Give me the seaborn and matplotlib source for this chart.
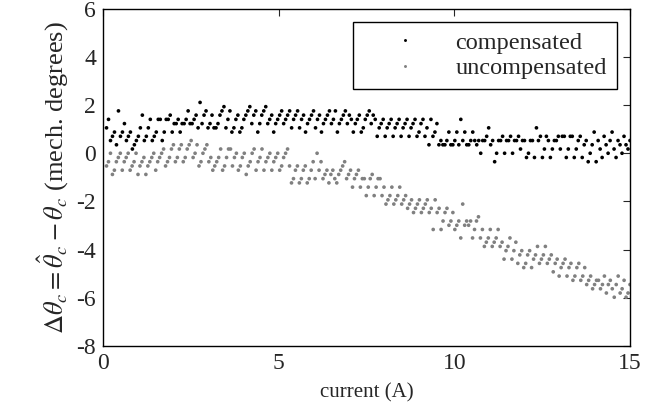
import numpy as np
import pandas as pd
import matplotlib
matplotlib.use('Agg')
import matplotlib.pyplot as plt
import seaborn as sns

# encoder resolution: mechanical degrees per count
DEG_PER_COUNT = 360 / 2048

# angle error, in encoder counts, in order of rising current
compensated_counts = [
    6, 8, 3, 4, 5, 2, 10, 4, 5, 7, 3, 4, 5, 1, 2, 3, 4, 6, 9, 3,
    4, 6, 8, 3, 4, 5, 8, 8, 3, 5, 8, 8, 9, 5, 7, 7, 8, 5, 7, 7,
    8, 10, 7, 7, 8, 9, 6, 12, 7, 9, 10, 6, 7, 9, 6, 6, 7, 9, 10, 11,
    6, 8, 10, 5, 6, 8, 9, 5, 6, 8, 9, 10, 11, 7, 9, 10, 5, 7, 9, 10,
    11, 7, 8, 9, 5, 7, 8, 9, 10, 7, 8, 9, 10, 6, 8, 9, 10, 6, 8, 9,
    5, 7, 8, 9, 10, 6, 8, 9, 5, 7, 8, 9, 10, 7, 8, 10, 5, 7, 8, 9,
    10, 7, 9, 8, 5, 7, 8, 9, 5, 6, 8, 9, 10, 7, 9, 8, 4, 6, 7, 8,
    4, 6, 7, 8, 4, 6, 7, 8, 4, 6, 7, 8, 4, 6, 7, 8, 4, 5, 7, 8,
    4, 6, 2, 8, 4, 5, 7, 2, 3, 2, 2, 3, 5, 2, 2, 3, 5, 2, 8, 3,
    5, 2, 2, 3, 5, 3, 2, 3, 0, 3, 3, 4, 6, 2, 3, -2, 0, 3, 3, 4,
    0, 3, 3, 4, 0, 3, 3, 4, 1, 3, 3, -1, 0, 3, 3, -1, 6, 3, 4, -1,
    1, 4, 3, -1, 1, 3, 3, 4, 1, 4, 4, -1, 1, 4, 4, -1, 1, 3, 4, -1,
    2, 3, -2, 0, 2, 5, -2, 3, 1, -1, 4, 2, 0, 3, 5, 1, -1, 3, 2, 0,
    4, 2, 1, 3,
]
uncompensated_counts = [
    -3, -2, 0, -5, -4, -2, -1, 0, -4, -2, -1, 0, -4, -3, -2, 0, -5, -3, -2, -1,
    -5, -3, -2, -1, 0, -4, -2, -1, 0, 1, -3, -2, -1, 1, 2, -2, -1, 1, 2, -2,
    -1, 1, 2, 3, -1, 0, 2, -3, -2, 0, 1, 2, -2, -1, -4, -3, -2, -1, 1,
    -4, -3, -1, 1, 1, -3, -1, 0, -4, -3, -1, 0, -5, -3, -2, 0, 1, -4, -2, -1,
    1, -4, -2, -1, 0, -4, -2, -1, 0, -4, -3, -1, 0, 1, -3, -7, -6, -4, -3, -7,
    -6, -4, -3, -7, -6, -4, -2, -6, 0, -4, -2, -6, -5, -4, -7, -5, -4, -6, -7, -5,
    -4, -3, -2,
    -6, -5, -4, -8, -6, -5, -4, -8, -6, -6, -10, -8, -6, -5, -10, -8, -6, -6, -10, -8,
    -12, -11, -10, -8, -12, -11, -10, -8, -12, -11, -10, -13, -12, -11, -14, -13, -12, -11, -14, -13,
    -12, -11, -14, -13, -18, -11, -14, -13, -18, -16, -14, -13, -17, -16, -14, -18, -17, -16, -20, -12,
    -17, -16,
    -17, -16, -20, -18, -16, -15, -20, -18, -22, -21, -20, -18, -22, -21, -20, -18, -22, -21, -25, -23,
    -22, -20, -25, -23, -21, -26, -24, -23, -27, -26, -24, -23, -27, -25, -24, -22, -26, -25, -24, -22,
    -26, -25, -24, -28, -26, -25, -29, -27, -26, -25, -29, -27, -26, -30, -29, -27, -26, -30, -29, -27,
    -31, -30, -29, -32, -31, -30,
    -30, -32, -31, -29, -33, -31, -30, -32, -34, -31, -29, -33, -32, -30, -34, -33, -31,
]

# the current was swept evenly from about 0.1 A up to 15 A
sweep_start, sweep_stop = 0.1, 15.0

frames = []
for name, counts in [('compensated', compensated_counts),
                     ('uncompensated', uncompensated_counts)]:
    frames.append(pd.DataFrame({
        'current': np.linspace(sweep_start, sweep_stop, len(counts)),
        'error': np.array(counts) * DEG_PER_COUNT,
        'series': name,
    }))
df = pd.concat(frames, ignore_index=True)

sns.set_style('white')
plt.rcParams['font.family'] = ['Liberation Serif', 'DejaVu Serif']
plt.rcParams['mathtext.fontset'] = 'stix'
plt.rcParams['axes.unicode_minus'] = False

fig = plt.figure(figsize=(6.68, 4.12), dpi=100)
ax = fig.add_axes([0.1542, 0.1602, 0.7889, 0.8187])

sns.scatterplot(data=df, x='current', y='error', hue='series',
                palette={'compensated': 'black', 'uncompensated': '#808080'},
                s=7, linewidth=0, ax=ax)

ax.set_xlim(0, 15)
ax.set_ylim(-8, 6)
ax.set_xticks([0, 5, 10, 15])
ax.set_yticks(range(-8, 7, 2))
ax.tick_params(direction='in', length=5, width=0.8, top=True, right=True,
               labelsize=17, pad=5)
for sp in ax.spines.values():
    sp.set_linewidth(1.0)
    sp.set_color('black')

ax.set_xlabel('current (A)', fontsize=15, labelpad=7)
ax.set_ylabel(r'$\Delta\theta_c = \hat{\theta}_c - \theta_c$ (mech. degrees)',
              fontsize=19, labelpad=4)

leg = ax.legend(loc='upper right', fontsize=17.5, frameon=True, fancybox=False,
                edgecolor='black', framealpha=1, handlelength=3.5,
                handletextpad=0.33, borderaxespad=0.55, markerscale=0.8,
                borderpad=0.4, labelspacing=0.15)
leg.get_frame().set_linewidth(1.0)

fig.savefig('out.png', dpi=100)
